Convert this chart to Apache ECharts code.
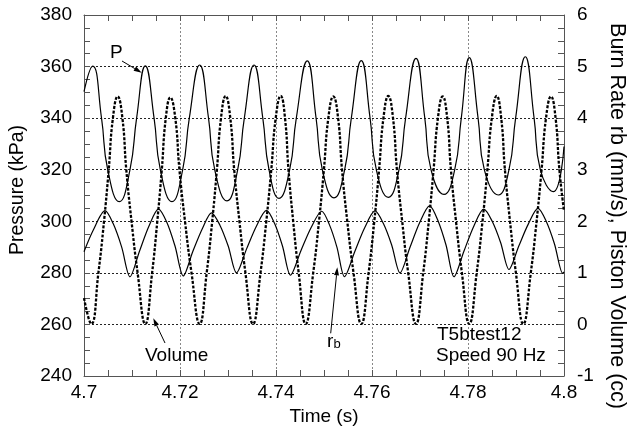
<!DOCTYPE html>
<html><head><meta charset="utf-8">
<script src="https://cdn.jsdelivr.net/npm/echarts@6/dist/echarts.min.js"></script>
<style>html,body{margin:0;padding:0;background:#fff}#c{width:630px;height:434px}</style>
</head><body><div id="c"></div>
<script>
// Time axis (s)
const timeRange = [4.7, 4.8];
const timeLabels = ['4.7', '4.72', '4.74', '4.76', '4.78', '4.8'];
// Left axis (kPa)
const pressureRange = [240, 380];
// Right axis (mm/s, cc)
const rightRange = [-1, 6];

// Pressure P (kPa) vs time (s)
const pressure = [[4.70000,350.3],[4.70181,360.2],[4.70365,340],[4.70494,320],[4.70735,307.6],[4.70958,320],[4.71096,340],[4.71277,360.3],[4.71460,340],[4.71590,320],[4.71833,307.6],[4.72056,320],[4.72194,340],[4.72410,360.6],[4.72594,340],[4.72723,320],[4.72979,307.9],[4.73202,320],[4.73340,340],[4.73542,360.6],[4.73725,340],[4.73854,320],[4.74063,308.9],[4.74285,320],[4.74423,340],[4.74652,362.2],[4.74835,340],[4.74965,320],[4.75208,309.1],[4.75431,320],[4.75569,340],[4.75777,362.3],[4.75960,340],[4.76090,320],[4.76340,309.3],[4.76563,320],[4.76700,340],[4.76917,363.2],[4.77100,340],[4.77229,320],[4.77500,310.4],[4.77723,320],[4.77860,340],[4.78027,363.5],[4.78210,340],[4.78340,320],[4.78631,310.2],[4.78854,320],[4.78992,340],[4.79194,363.8],[4.79377,340],[4.79506,320],[4.79777,311.5],[4.80000,329]];

// Piston volume (cc) vs time (s)
const volume = [[4.70000,0.51],[4.70152,0.01],[4.70300,1],[4.70417,2],[4.70515,3],[4.70602,4],[4.70702,4.42],[4.70800,4],[4.70881,3],[4.70990,2],[4.71117,1],[4.71277,0.01],[4.71419,1],[4.71527,2],[4.71621,3],[4.71704,4],[4.71798,4.40],[4.71902,4],[4.71988,3],[4.72104,2],[4.72240,1],[4.72410,0.01],[4.72556,1],[4.72671,2],[4.72769,3],[4.72854,4],[4.72952,4.43],[4.73048,4],[4.73129,3],[4.73238,2],[4.73363,1],[4.73521,0.01],[4.73677,1],[4.73798,2],[4.73902,3],[4.73994,4],[4.74098,4.43],[4.74188,4],[4.74260,3],[4.74358,2],[4.74473,1],[4.74619,0.01],[4.74775,1],[4.74896,2],[4.74998,3],[4.75090,4],[4.75194,4.42],[4.75294,4],[4.75375,3],[4.75485,2],[4.75615,1],[4.75777,0.01],[4.75929,1],[4.76048,2],[4.76148,3],[4.76238,4],[4.76340,4.43],[4.76438,4],[4.76519,3],[4.76629,2],[4.76754,1],[4.76917,0.01],[4.77067,1],[4.77183,2],[4.77283,3],[4.77373,4],[4.77473,4.42],[4.77567,4],[4.77644,3],[4.77750,2],[4.77873,1],[4.78027,0.01],[4.78181,1],[4.78302,2],[4.78404,3],[4.78496,4],[4.78598,4.43],[4.78692,4],[4.78769,3],[4.78875,2],[4.78998,1],[4.79152,0.01],[4.79308,1],[4.79429,2],[4.79533,3],[4.79625,4],[4.79729,4.42],[4.79825,4],[4.79904,3],[4.80000,2.2]];

// Burn rate rb (mm/s) vs time (s)
const burnRate = [[4.70000,1.41],[4.70194,1.83],[4.70438,2.205],[4.70610,1.95],[4.70785,1.50],[4.70958,0.925],[4.71156,1.42],[4.71354,1.91],[4.71552,2.235],[4.71725,1.98],[4.71896,1.52],[4.72069,0.94],[4.72265,1.41],[4.72467,1.86],[4.72656,2.165],[4.72829,1.93],[4.73004,1.52],[4.73177,1.00],[4.73385,1.46],[4.73594,1.91],[4.73802,2.21],[4.73969,1.96],[4.74135,1.52],[4.74302,0.955],[4.74519,1.43],[4.74735,1.885],[4.74952,2.195],[4.75110,1.94],[4.75269,1.50],[4.75427,0.925],[4.75640,1.41],[4.75850,1.88],[4.76063,2.20],[4.76235,1.96],[4.76410,1.54],[4.76583,1.00],[4.76790,1.49],[4.76994,1.975],[4.77200,2.30],[4.77369,2.025],[4.77542,1.54],[4.77708,0.925],[4.77915,1.42],[4.78123,1.91],[4.78329,2.235],[4.78504,2.00],[4.78679,1.59],[4.78854,1.065],[4.79056,1.515],[4.79258,1.95],[4.79458,2.25],[4.79629,2.00],[4.79802,1.56],[4.79973,0.99],[4.80000,1.02]];

const FONT = '"Liberation Sans", Arial, Helvetica, sans-serif';
const chart = echarts.init(document.getElementById('c'), null, {renderer: 'canvas'});

function arrow(x1, y1, x2, y2, len, w) {
  const a = Math.atan2(y2 - y1, x2 - x1);
  const bx = x2 - len * Math.cos(a), by = y2 - len * Math.sin(a);
  const px = -Math.sin(a) * w / 2, py = Math.cos(a) * w / 2;
  return [
    {type: 'line', shape: {x1, y1, x2: bx, y2: by}, style: {stroke: '#000', lineWidth: 1}, z: 100},
    {type: 'polygon', shape: {points: [[x2, y2], [bx + px, by + py], [bx - px, by - py]]}, style: {fill: '#000'}, z: 100}
  ];
}
function label(text, x, y, size, extra) {
  return Object.assign({type: 'text', x, y, z: 100,
    style: {text, fill: '#000', font: size + 'px ' + FONT, textAlign: 'left', textVerticalAlign: 'middle', verticalAlign: 'middle'}}, extra || {});
}

const axisCommon = {
  axisLine: {show: true, onZero: false, lineStyle: {color: '#555', width: 1}},
  axisTick: {show: true, inside: true, length: 6, lineStyle: {color: '#555'}},
  minorTick: {show: true, splitNumber: 4, length: 6, lineStyle: {color: '#555'}},
};

const option = {
  animation: false,
  backgroundColor: '#fff',
  grid: {left: 84, right: 66, top: 15, bottom: 58, containLabel: false},
  xAxis: [
    Object.assign({}, axisCommon, {
      type: 'value', min: timeRange[0], max: timeRange[1], interval: 0.02, position: 'bottom',
      name: 'Time (s)', nameLocation: 'middle', nameGap: 30,
      nameTextStyle: {fontFamily: FONT, fontSize: 19, color: '#000'},
      axisLabel: {show: true, margin: 7, fontFamily: FONT, fontSize: 19, color: '#000',
        formatter: v => timeLabels[Math.round((v - timeRange[0]) / 0.02)] || ''},
      splitLine: {show: true, lineStyle: {color: '#888', width: 1, type: [2, 2]}}
    }),
    Object.assign({}, axisCommon, {
      type: 'value', min: timeRange[0], max: timeRange[1], interval: 0.02, position: 'top',
      axisLabel: {show: false}, splitLine: {show: false}
    })
  ],
  yAxis: [
    Object.assign({}, axisCommon, {
      type: 'value', min: pressureRange[0], max: pressureRange[1], interval: 20, position: 'left',
      axisLabel: {show: true, margin: 12, fontFamily: FONT, fontSize: 19, color: '#000'},
      splitLine: {show: true, lineStyle: {color: '#222', width: 1, type: [2, 2]}}
    }),
    Object.assign({}, axisCommon, {
      type: 'value', min: rightRange[0], max: rightRange[1], interval: 1, position: 'right',
      axisLabel: {show: true, margin: 13, fontFamily: FONT, fontSize: 19, color: '#000'},
      splitLine: {show: false}
    })
  ],
  series: [
    {name: 'P', type: 'line', data: pressure, xAxisIndex: 0, yAxisIndex: 0, showSymbol: false, smooth: 0.5,
      lineStyle: {color: '#000', width: 1.2}, z: 3},
    {name: 'Volume', type: 'line', data: volume, xAxisIndex: 0, yAxisIndex: 1, showSymbol: false, smooth: 0.5,
      lineStyle: {color: '#000', width: 2.3, type: [3, 1.6]}, z: 3},
    {name: 'rb', type: 'line', data: burnRate, xAxisIndex: 0, yAxisIndex: 1, showSymbol: false, smooth: 0.3,
      lineStyle: {color: '#000', width: 1.2}, z: 3}
  ],
  graphic: [
    label('Pressure (kPa)', 17.5, 190, 19.5, {rotation: Math.PI / 2, style: {text: 'Pressure (kPa)', fill: '#000', font: '19.5px ' + FONT, textAlign: 'center', verticalAlign: 'middle'}}),
    label('Burn Rate rb (mm/s), Piston Volume (cc)', 617, 216, 21.5, {rotation: -Math.PI / 2, style: {text: 'Burn Rate rb (mm/s), Piston Volume (cc)', fill: '#000', font: '21.5px ' + FONT, textAlign: 'center', verticalAlign: 'middle'}}),
    label('P', 110, 52.5, 19),
    ...arrow(122, 61, 141.7, 72.7, 8, 5),
    label('Volume', 145, 355.5, 19),
    ...arrow(165, 343, 153.3, 318.3, 8, 5),
    label('r', 327, 341.5, 19),
    label('b', 333.5, 344, 13),
    ...arrow(330.7, 333.3, 337.3, 267.3, 8, 5),
    label('T5btest12', 437, 335, 19),
    label('Speed 90 Hz', 436, 356, 19)
  ]
};
chart.setOption(option);
</script>
</body></html>
